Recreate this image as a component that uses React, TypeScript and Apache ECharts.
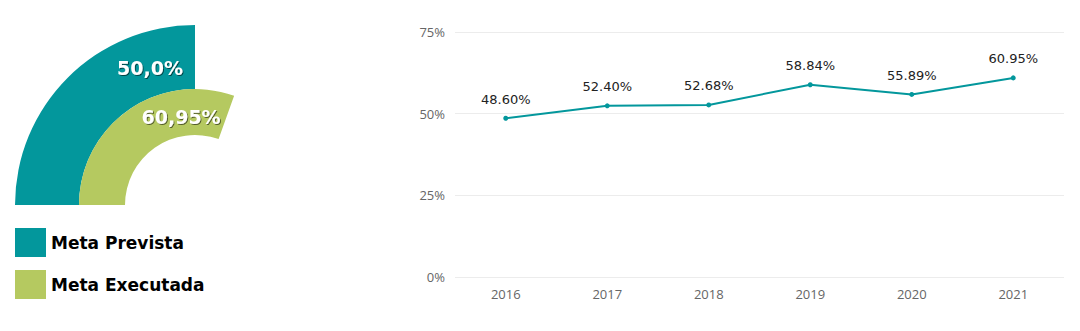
import React, { useEffect, useRef } from "react";
import * as echarts from "echarts";

const gaugeNames = ["Meta Prevista", "Meta Executada"];
const gaugeValues = [50.0, 60.95];
const gaugeLabels = ["50,0%", "60,95%"];
const gaugeColors = ["#03979c", "#b5c960"];

const years = ["2016", "2017", "2018", "2019", "2020", "2021"];
const rates = [48.6, 52.4, 52.68, 58.84, 55.89, 60.95];
const yTicks = [0, 25, 50, 75];

export default function App() {
  const ref = useRef<HTMLDivElement>(null);
  useEffect(() => {
    if (!ref.current) return;
    const chart = echarts.init(ref.current, null, { renderer: "svg" });
    const labelStyle = {
      show: true,
      position: "insideEnd" as const,
      rotate: 0,
      color: "#fff",
      fontFamily: "DejaVu Sans",
      fontWeight: "bold" as const,
      fontSize: 19,
      textShadowColor: "rgba(0,0,0,0.55)",
      textShadowOffsetX: 1,
      textShadowOffsetY: 1,
      textShadowBlur: 1,
    };
    chart.setOption({
      animation: false,
      polar: [
        { center: [195, 205], radius: [116, 180] },
        { center: [195, 205], radius: [70, 116] },
      ],
      angleAxis: [
        { polarIndex: 0, type: "value", min: 0, max: 200, startAngle: 180, clockwise: true, show: false },
        { polarIndex: 1, type: "value", min: 0, max: 200, startAngle: 180, clockwise: true, show: false },
      ],
      radiusAxis: [
        { polarIndex: 0, type: "category", data: [gaugeNames[0]], show: false },
        { polarIndex: 1, type: "category", data: [gaugeNames[1]], show: false },
      ],
      legend: {
        orient: "vertical",
        left: 10,
        top: 223,
        itemWidth: 31,
        itemHeight: 29,
        itemGap: 13,
        icon: "rect",
        data: gaugeNames,
        textStyle: { fontFamily: "DejaVu Sans", fontSize: 17, fontWeight: "bold", color: "#000", padding: [3, 0, 0, 0] },
      },
      grid: { left: 455, right: 16, top: 32, bottom: 54 },
      xAxis: {
        type: "category",
        data: years,
        boundaryGap: true,
        axisLine: { show: false },
        axisTick: { show: false },
        axisLabel: { color: "#666", fontSize: 13, margin: 10, fontFamily: "Open Sans" },
      },
      yAxis: {
        type: "value",
        min: yTicks[0],
        max: yTicks[yTicks.length - 1],
        interval: 25,
        axisLabel: { formatter: "{value}%", color: "#666", fontSize: 13, margin: 10, fontFamily: "Open Sans" },
        splitLine: { lineStyle: { color: "#ececec" } },
        axisLine: { show: false },
        axisTick: { show: false },
      },
      series: [
        {
          name: gaugeNames[0],
          type: "bar",
          coordinateSystem: "polar",
          polarIndex: 0,
          barWidth: "100%",
          data: [gaugeValues[0]],
          itemStyle: { color: gaugeColors[0] },
          label: { ...labelStyle, offset: [-7, 11], formatter: () => gaugeLabels[0] },
        },
        {
          name: gaugeNames[1],
          type: "bar",
          coordinateSystem: "polar",
          polarIndex: 1,
          barWidth: "100%",
          data: [gaugeValues[1]],
          itemStyle: { color: gaugeColors[1] },
          label: { ...labelStyle, offset: [-1, 1], formatter: () => gaugeLabels[1] },
        },
        {
          name: "Taxa",
          type: "line",
          data: rates,
          symbol: "circle",
          symbolSize: 5,
          lineStyle: { color: gaugeColors[0], width: 2 },
          itemStyle: { color: gaugeColors[0] },
          label: {
            show: true,
            position: "top",
            distance: 10,
            color: "#222",
            fontSize: 13,
            fontFamily: "DejaVu Sans",
            formatter: (p: any) => p.value.toFixed(2) + "%",
          },
        },
      ],
    });
    return () => chart.dispose();
  }, []);
  return (
    <div
      ref={ref}
      style={{ position: "fixed", left: 0, top: 0, width: 1080, height: 331, background: "#fff" }}
    />
  );
}
